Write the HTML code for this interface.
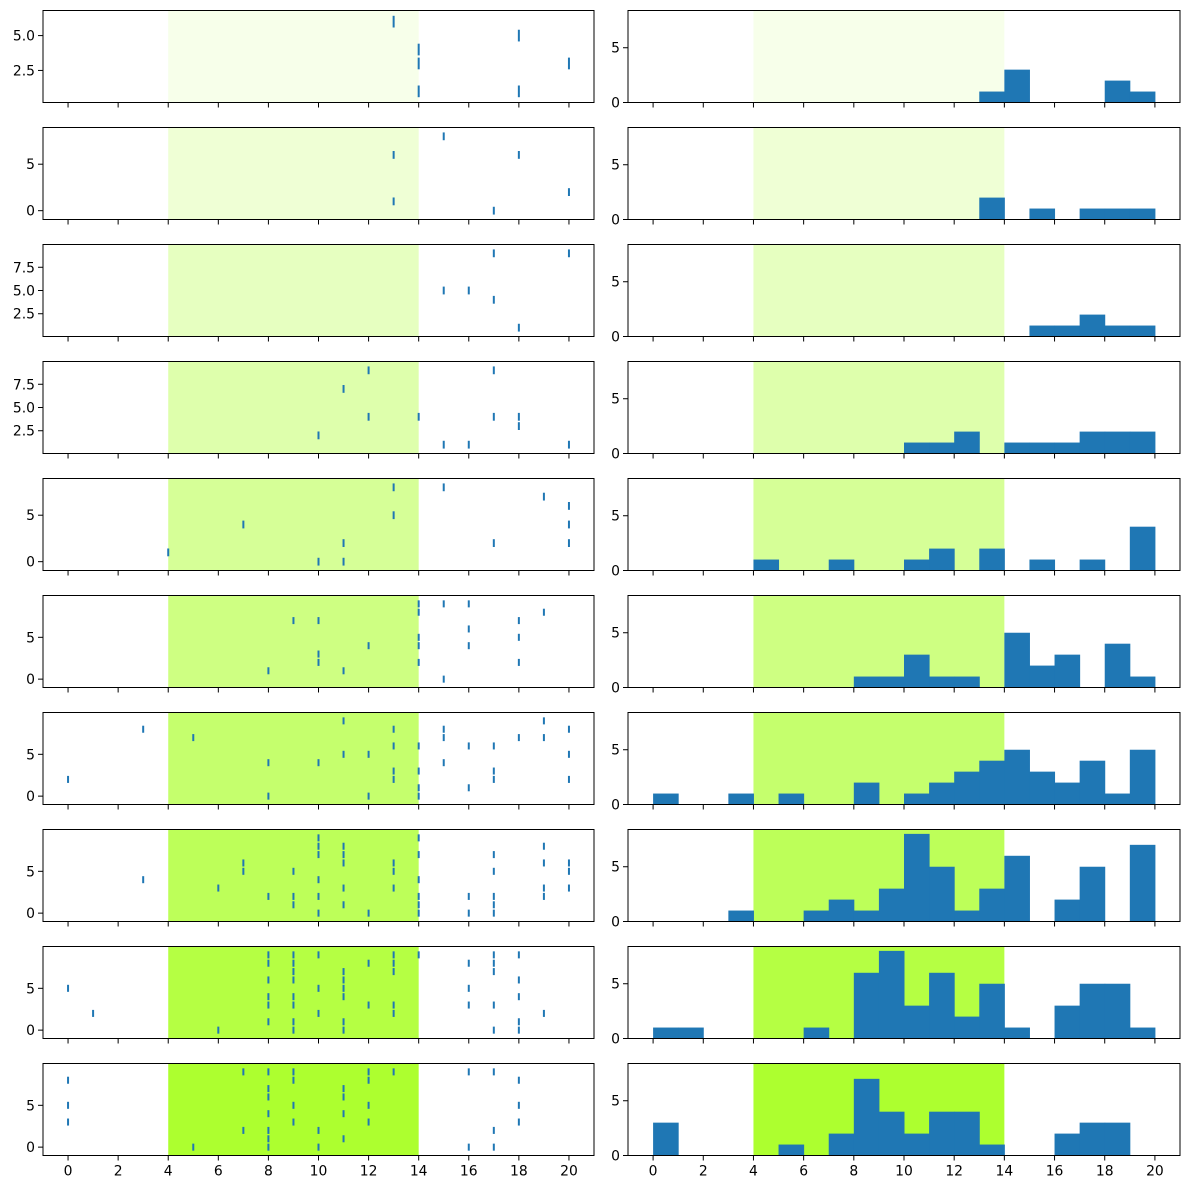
<!DOCTYPE html>
<html><head><meta charset="utf-8">
<style>
html,body{margin:0;padding:0;background:#fff;}
svg{display:block;font-family:"DejaVu Sans","Liberation Sans",sans-serif;}
</style></head>
<body>
<svg id="fig" width="1189" height="1190" viewBox="0 0 1189 1190" xmlns="http://www.w3.org/2000/svg"></svg>
<script>
// ---- data ----
const xTicks = [0,2,4,6,8,10,12,14,16,18,20];
const spanStart = 4, spanEnd = 14;
const spanAlpha = [0.1,0.2,0.3,0.4,0.5,0.6,0.7,0.8,0.9,1.0];
const evX0 = [13,14,14,14,18,18,20];
const evY0 = [6,4,3,1,5,1,3];
const evX1 = [13,13,15,18,17,20];
const evY1 = [6,1,8,6,0,2];
const evX2 = [17,17,20,15,16,18];
const evY2 = [9,4,9,5,5,1];
const evX3 = [12,11,12,14,10,17,17,18,18,15,16,20];
const evY3 = [9,7,4,4,2,9,4,4,3,1,1,1];
const evX4 = [13,13,15,7,19,20,20,20,11,11,10,4,17];
const evY4 = [8,5,8,4,7,6,4,2,2,0,0,1,2];
const evX5 = [14,14,14,14,14,15,15,16,16,16,9,10,10,10,8,12,11,18,18,18,19];
const evY5 = [9,8,5,4,2,9,0,9,6,4,7,7,3,2,1,4,1,7,5,2,8];
const evX6 = [0,3,5,8,8,10,11,11,12,12,13,13,13,13,14,14,14,14,15,15,15,16,16,17,17,17,18,19,19,20,20,20];
const evY6 = [2,8,7,4,0,4,9,5,5,0,8,6,3,2,6,3,1,0,8,7,4,6,1,6,3,2,7,9,7,8,5,2];
const evX7 = [3,6,7,7,8,9,9,9,10,10,10,10,10,10,11,11,11,11,11,12,13,13,13,14,14,14,14,14,14,16,16,17,17,17,17,17,19,19,19,19,20,20,20];
const evY7 = [4,3,6,5,2,5,2,1,9,8,7,4,2,0,8,7,6,3,1,0,6,5,3,9,7,4,2,1,0,2,0,7,5,2,1,0,8,6,3,2,6,5,3];
const evX8 = [0,1,6,8,8,8,8,8,8,9,9,9,9,9,9,9,9,10,10,10,11,11,11,11,11,11,12,12,13,13,13,13,13,14,16,16,16,17,17,17,17,17,18,18,18,18,18,19];
const evY8 = [5,2,0,9,8,6,4,3,1,9,8,7,6,4,3,1,0,9,5,2,7,6,5,4,1,0,8,3,9,8,7,3,2,9,8,5,3,9,8,7,3,0,9,6,4,1,0,2];
const evX9 = [0,0,0,5,7,7,8,8,8,8,8,8,8,9,9,9,9,10,10,11,11,11,11,12,12,12,12,13,16,16,17,17,17,18,18,18];
const evY9 = [8,5,3,0,9,2,9,7,6,4,2,1,0,9,8,5,3,2,0,7,6,4,1,9,8,5,3,9,9,0,9,2,0,8,5,3];
const eventsX = [evX0,evX1,evX2,evX3,evX4,evX5,evX6,evX7,evX8,evX9];
const eventsY = [evY0,evY1,evY2,evY3,evY4,evY5,evY6,evY7,evY8,evY9];
const leftTicks = [[2.5,5.0],[0,5],[2.5,5.0,7.5],[2.5,5.0,7.5],[0,5],[0,5],[0,5],[0,5],[0,5],[0,5]];
const leftTickLabels = [["2.5","5.0"],["0","5"],["2.5","5.0","7.5"],["2.5","5.0","7.5"],["0","5"],["0","5"],["0","5"],["0","5"],["0","5"],["0","5"]];
const hist0 = [0,0,0,0,0,0,0,0,0,0,0,0,0,1,3,0,0,0,2,1];
const hist1 = [0,0,0,0,0,0,0,0,0,0,0,0,0,2,0,1,0,1,1,1];
const hist2 = [0,0,0,0,0,0,0,0,0,0,0,0,0,0,0,1,1,2,1,1];
const hist3 = [0,0,0,0,0,0,0,0,0,0,1,1,2,0,1,1,1,2,2,2];
const hist4 = [0,0,0,0,1,0,0,1,0,0,1,2,0,2,0,1,0,1,0,4];
const hist5 = [0,0,0,0,0,0,0,0,1,1,3,1,1,0,5,2,3,0,4,1];
const hist6 = [1,0,0,1,0,1,0,0,2,0,1,2,3,4,5,3,2,4,1,5];
const hist7 = [0,0,0,1,0,0,1,2,1,3,8,5,1,3,6,0,2,5,0,7];
const hist8 = [1,1,0,0,0,0,1,0,6,8,3,6,2,5,1,0,3,5,5,1];
const hist9 = [3,0,0,0,0,1,0,2,7,4,2,4,4,1,0,0,2,3,3,0];
const hists = [hist0,hist1,hist2,hist3,hist4,hist5,hist6,hist7,hist8,hist9];
const histTicks = [0,5];

// ---- layout ----
const NS="http://www.w3.org/2000/svg";
const svg=document.getElementById('fig');
const BLUE="#1f77b4";
const L={x0:43,x1:594}, R={x0:628,x1:1180};
const rowTop=i=>10.5+117*i, H=92;
const FS=13.9;
function el(tag,attrs,parent){const e=document.createElementNS(NS,tag);for(const k in attrs)e.setAttribute(k,attrs[k]);(parent||svg).appendChild(e);return e;}
function xs(ax,v){return ax.x0+(v+1)/22*(ax.x1-ax.x0);}

for(let i=0;i<10;i++){
  const top=rowTop(i), bot=top+H;
  const ex=eventsX[i], ey=eventsY[i];
  let mn=Math.min(...ey)-0.5, mx=Math.max(...ey)+0.5, pad=(mx-mn)*0.05;
  const ylo=mn-pad, yhi=mx+pad;
  const ysL=v=>bot-(v-ylo)/(yhi-ylo)*H;
  const gL=el('g',{});
  
  
  const sp=el('rect',{x:xs(L,spanStart),y:top,width:xs(L,spanEnd)-xs(L,spanStart),height:H,fill:'#adff2f','fill-opacity':spanAlpha[i]},gL);
  
  
  for(let k=0;k<ex.length;k++){
    const ln=el('line',{x1:xs(L,ex[k]),x2:xs(L,ex[k]),y1:ysL(ey[k]-0.42),y2:ysL(ey[k]+0.42),stroke:BLUE,'stroke-width':2},gL);
    
    
  }
  el('rect',{x:L.x0,y:top,width:L.x1-L.x0,height:H,fill:'none',stroke:'#000','stroke-width':1},gL);
  leftTicks[i].forEach((t,j)=>{
    const y=ysL(t);
    el('line',{x1:L.x0-5,x2:L.x0,y1:y,y2:y,stroke:'#000'},gL);
    const tx=el('text',{x:L.x0-8,y:y+5,'text-anchor':'end','font-size':FS,fill:'#000'},gL);
    tx.textContent=leftTickLabels[i][j];
    
    
  });
  const h=hists[i];
  const ysR=v=>bot-v/8.4*H;
  const gR=el('g',{});
  
  
  const sp2=el('rect',{x:xs(R,spanStart),y:top,width:xs(R,spanEnd)-xs(R,spanStart),height:H,fill:'#adff2f','fill-opacity':spanAlpha[i]},gR);
  
  
  for(let b=0;b<h.length;b++){
    if(h[b]<=0)continue;
    const x0=xs(R,b), x1=xs(R,b+1);
    const bar=el('rect',{x:x0,y:ysR(h[b]),width:x1-x0+0.5,height:ysR(0)-ysR(h[b]),fill:BLUE},gR);
    
    
  }
  el('rect',{x:R.x0,y:top,width:R.x1-R.x0,height:H,fill:'none',stroke:'#000','stroke-width':1},gR);
  histTicks.forEach(t=>{
    const y=ysR(t);
    el('line',{x1:R.x0-5,x2:R.x0,y1:y,y2:y,stroke:'#000'},gR);
    const tx=el('text',{x:R.x0-8,y:y+5,'text-anchor':'end','font-size':FS,fill:'#000'},gR);
    tx.textContent=String(t);
    
    
  });
  [[L,gL],[R,gR]].forEach(([ax,g])=>{
    xTicks.forEach(t=>{
      const x=xs(ax,t);
      el('line',{x1:x,x2:x,y1:bot,y2:bot+5,stroke:'#000'},g);
      if(i===9){
        const tx=el('text',{x:x,y:bot+20,'text-anchor':'middle','font-size':FS,fill:'#000'},g);
        tx.textContent=String(t);
        
        
      }
    });
  });
}
</script>
</body></html>
